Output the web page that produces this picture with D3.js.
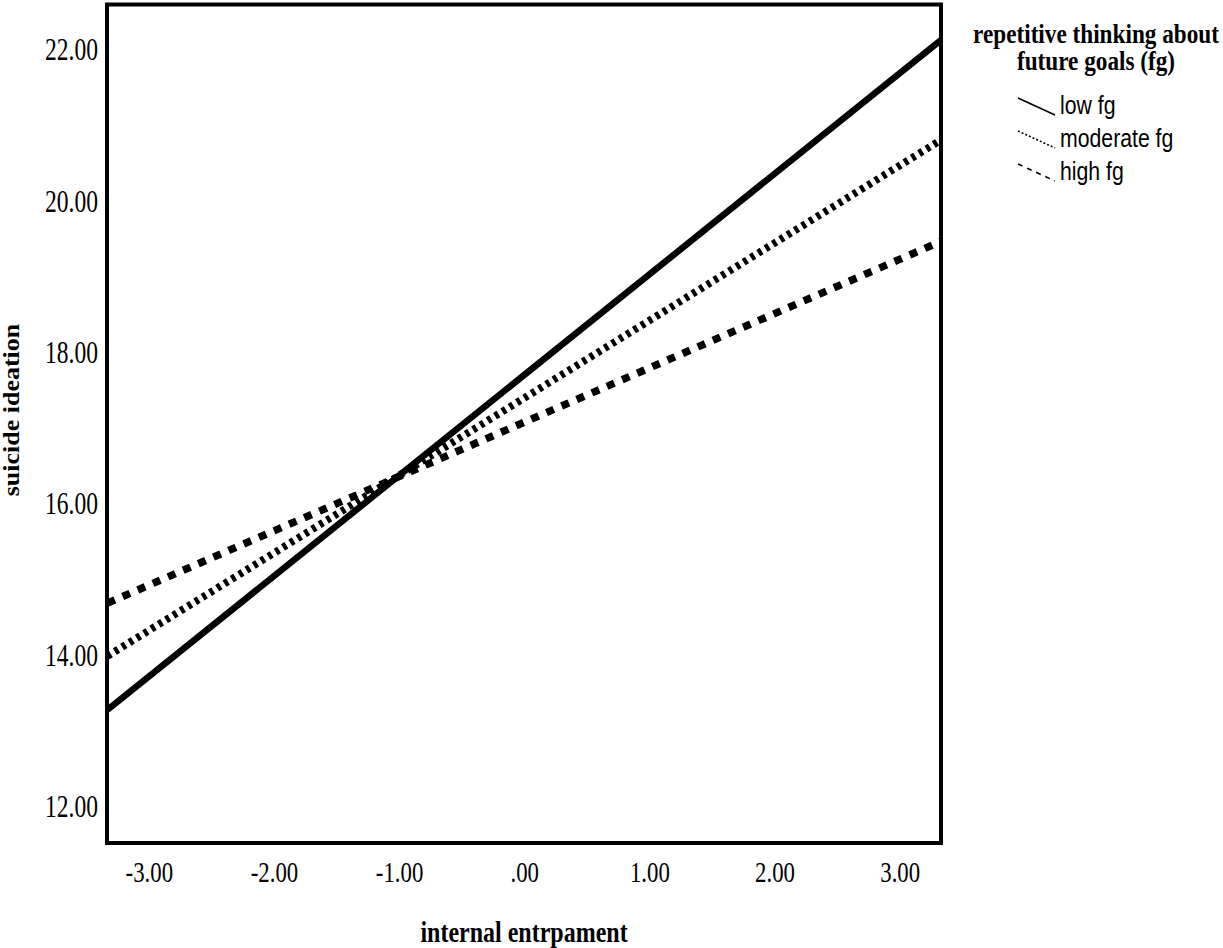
<!DOCTYPE html>
<html>
<head>
<meta charset="utf-8">
<script src="https://cdn.jsdelivr.net/npm/d3@7"></script>
<style>
  body { margin: 0; background: #fff; }
  text { fill: #000; }
</style>
</head>
<body>
<svg id="chart" width="1223" height="948"></svg>
<script>
// Simple slopes: suicide ideation predicted from internal entrapment
// at three levels of repetitive thinking about future goals.
const xEnds = [-3.33, 3.33];
const seriesNames = ["low fg", "moderate fg", "high fg"];
const lowFg = [13.27, 22.12];
const moderateFg = [13.98, 20.80];
const highFg = [14.68, 19.46];

const xTicks = [-3, -2, -1, 0, 1, 2, 3];
const xTickLabels = ["-3.00", "-2.00", "-1.00", ".00", "1.00", "2.00", "3.00"];
const yTicks = [12, 14, 16, 18, 20, 22];
const yTickLabels = ["12.00", "14.00", "16.00", "18.00", "20.00", "22.00"];

const xTitle = "internal entrpament";
const yTitle = "suicide ideation";
const legendTitle = ["repetitive thinking about", "future goals (fg)"];

const svg = d3.select("#chart");
const plot = { left: 107, right: 941, top: 4.5, bottom: 843 };
const serif = "'Liberation Serif', 'Times New Roman', serif";
const sans = "'Liberation Sans', Arial, sans-serif";
const squeeze = 0.76;

const x = d3.scaleLinear().domain([-3.33, 3.33]).range([plot.left + 0.5, plot.right]);
const y = d3.scaleLinear().domain([11.51, 22.59]).range([plot.bottom, plot.top]);

// clip region for the regression lines
svg.append("clipPath").attr("id", "plotClip")
  .append("rect")
  .attr("x", plot.left).attr("y", plot.top)
  .attr("width", plot.right - plot.left).attr("height", plot.bottom - plot.top);

const series = [
  { name: seriesNames[0], values: lowFg, width: 6.5, dash: null, legendDash: null },
  { name: seriesNames[1], values: moderateFg, width: 7.5, dash: "4,4.6", legendDash: "2,2" },
  { name: seriesNames[2], values: highFg, width: 7.5, dash: "8,8.5", legendDash: "5,5" }
];

const line = d3.line().x(d => x(d[0])).y(d => y(d[1]));

svg.append("g").attr("clip-path", "url(#plotClip)")
  .selectAll("path").data(series).join("path")
  .attr("d", s => line(xEnds.map((xv, i) => [xv, s.values[i]])))
  .attr("fill", "none")
  .attr("stroke", "#000")
  .attr("stroke-width", s => s.width)
  .attr("stroke-dasharray", s => s.dash)
  .attr("stroke-linecap", "butt");

// frame
svg.append("rect")
  .attr("x", plot.left).attr("y", plot.top)
  .attr("width", plot.right - plot.left).attr("height", plot.bottom - plot.top)
  .attr("fill", "none").attr("stroke", "#000").attr("stroke-width", 4);

// y axis
const yAxis = svg.append("g")
  .attr("transform", `translate(${plot.left},0)`)
  .call(d3.axisLeft(y).tickValues(yTicks).tickSize(0)
    .tickFormat((d, i) => yTickLabels[i]));
yAxis.select(".domain").remove();
yAxis.selectAll("text")
  .attr("x", -9 / squeeze)
  .attr("dy", "0.34em")
  .attr("transform", `scale(${squeeze},1)`)
  .style("font-family", serif)
  .style("font-size", "31px")
  .attr("fill", "#000");

// x axis
const xAxis = svg.append("g")
  .attr("transform", `translate(0,${plot.bottom})`)
  .call(d3.axisBottom(x).tickValues(xTicks).tickSize(0)
    .tickFormat((d, i) => xTickLabels[i]));
xAxis.select(".domain").remove();
xAxis.selectAll("text")
  .attr("y", 39)
  .attr("dy", null)
  .attr("transform", `scale(${squeeze},1)`)
  .style("font-family", serif)
  .style("font-size", "30px")
  .attr("fill", "#000");
xAxis.selectAll(".tick text").attr("x", 0);

// axis titles
svg.append("g").attr("transform", "translate(524,942) scale(0.8,1)")
  .append("text")
  .attr("text-anchor", "middle")
  .style("font-family", serif).style("font-weight", "bold").style("font-size", "30px")
  .text(xTitle);

svg.append("g").attr("transform", "translate(19,410) rotate(-90) scale(1,0.85)")
  .append("text")
  .attr("text-anchor", "middle")
  .style("font-family", serif).style("font-weight", "bold").style("font-size", "26px")
  .text(yTitle);

// legend
const legend = svg.append("g");
legend.selectAll("g.title").data(legendTitle).join("g")
  .attr("class", "title")
  .attr("transform", (d, i) => `translate(1096,${43 + i * 27}) scale(0.86,1)`)
  .append("text")
  .attr("text-anchor", "middle")
  .style("font-family", serif).style("font-weight", "bold").style("font-size", "27px")
  .text(d => d);

const items = legend.selectAll("g.item").data(series).join("g")
  .attr("class", "item")
  .attr("transform", (d, i) => `translate(1018,${114 + i * 33})`);
items.append("line")
  .attr("x1", 0).attr("y1", -16).attr("x2", 37).attr("y2", 1)
  .attr("stroke", "#000").attr("stroke-width", 1.6)
  .attr("stroke-dasharray", d => d.legendDash);
items.append("g").attr("transform", "translate(42,0) scale(0.85,1)")
  .append("text")
  .style("font-family", sans).style("font-size", "25px")
  .text(d => d.name);
</script>
</body>
</html>
